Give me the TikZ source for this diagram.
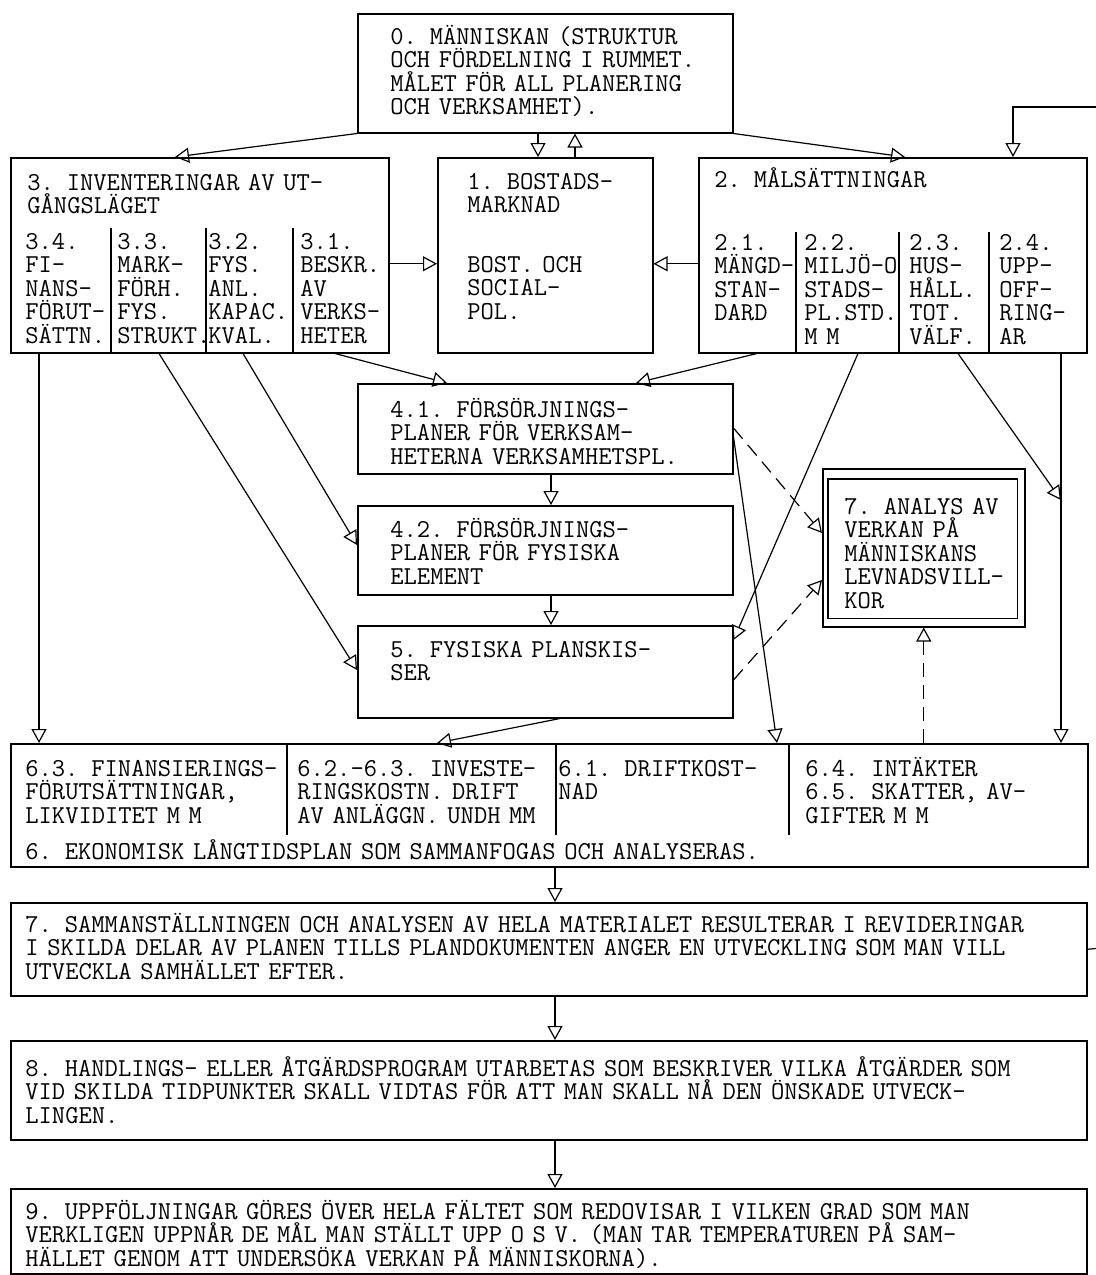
\documentclass[tikz,border=0pt]{standalone}
\usepackage{tikz}
\usetikzlibrary{arrows.meta}

\tikzset{
  box/.style={draw, line width=0.75pt, anchor=north west, inner sep=0pt},
  txt/.style={anchor=base west, inner sep=0pt, text width=560pt, align=left,
    font=\ttfamily\fontsize{12.9pt}{11.75pt}\selectfont},
  arr/.style={line width=0.6pt, -{Triangle[open, length=7pt, width=7.5pt]}},
  dasharr/.style={arr, dash pattern=on 7pt off 4pt},
  divider/.style={line width=0.6pt},
}

\begin{document}
\begin{tikzpicture}[x=0.5pt, y=-0.5pt]
\useasboundingbox (0,0) rectangle (1096,1275);
% top: the human being
\node[box, minimum width=187.5pt, minimum height=59.5pt] (b0) at (357,13) {};
\node[txt] (t0) at (390,44) {0. MÄNNISKAN (STRUKTUR\\OCH FÖRDELNING I RUMMET.\\MÅLET FÖR ALL PLANERING\\OCH VERKSAMHET).};
% row 3 - 1 - 2
\node[box, minimum width=189pt, minimum height=97.5pt] (b3) at (10,157) {};
\node[txt] (t3) at (27,190) {3. INVENTERINGAR AV UT-\\GÅNGSLÄGET};
\node[txt] (t34) at (25,249) {3.4.\\FI-\\NANS-\\FÖRUT-\\SÄTTN.};
\node[txt] (t33) at (117,249) {3.3.\\MARK-\\FÖRH.\\FYS.\\STRUKT.};
\node[txt] (t32) at (208,249) {3.2.\\FYS.\\ANL.\\KAPAC.\\KVAL.};
\node[txt] (t31) at (300,249) {3.1.\\BESKR.\\AV\\VERKS-\\HETER};
\foreach \x in {111,206,293} \draw[divider] (\x,228) -- (\x,352);

\node[box, minimum width=107.5pt, minimum height=97.5pt] (b1) at (437,157) {};
\node[txt] (t1) at (467,189) {1. BOSTADS-\\MARKNAD\\[18pt]BOST. OCH\\SOCIAL-\\POL.};

\node[box, minimum width=194pt, minimum height=97.5pt] (b2) at (698,157) {};
\node[txt] (t2) at (714,187) {2. MÅLSÄTTNINGAR};
\node[txt] (t21) at (714,250) {2.1.\\MÄNGD-\\STAN-\\DARD};
\node[txt] (t22) at (804,250) {2.2.\\MILJÖ-O\\STADS-\\PL.STD.\\M M};
\node[txt] (t23) at (909,250) {2.3.\\HUS-\\HÅLL.\\TOT.\\VÄLF.};
\node[txt] (t24) at (999,250) {2.4.\\UPP-\\OFF-\\RING-\\AR};
\foreach \x in {796,899,989} \draw[divider] (\x,232) -- (\x,352);

% middle column
\node[box, minimum width=187.5pt, minimum height=45pt] (b41) at (357,383) {};
\node[txt] (t41) at (390,417) {4.1. FÖRSÖRJNINGS-\\PLANER FÖR VERKSAM-\\HETERNA VERKSAMHETSPL.};
\node[box, minimum width=187.5pt, minimum height=44.5pt] (b42) at (357,505) {};
\node[txt] (t42) at (390,537) {4.2. FÖRSÖRJNINGS-\\PLANER FÖR FYSISKA\\ELEMENT};
\node[box, minimum width=187.5pt, minimum height=46pt] (b5) at (357,625) {};
\node[txt] (t5) at (390,657) {5. FYSISKA PLANSKIS-\\SER};

% analysis box (double frame)
\node[box, minimum width=101pt, minimum height=79pt] (b7) at (822,468) {};
\draw[line width=0.75pt] ([shift={(6,11)}]b7.north west) rectangle ([shift={(-8,-9)}]b7.south east);
\node[txt] (t7) at (844,514) {7. ANALYS AV\\VERKAN PÅ\\MÄNNISKANS\\LEVNADSVILL-\\KOR};

% economic plan
\node[box, minimum width=538.5pt, minimum height=61.5pt] (b6) at (10,743) {};
\node[txt] (t63) at (25,776) {6.3. FINANSIERINGS-\\FÖRUTSÄTTNINGAR,\\LIKVIDITET M M};
\node[txt] (t62) at (297,776) {6.2.-6.3. INVESTE-\\RINGSKOSTN. DRIFT\\AV ANLÄGGN. UNDH MM};
\node[txt] (t61) at (558,776) {6.1. DRIFTKOST-\\NAD};
\node[txt] (t64) at (805,776) {6.4. INTÄKTER\\6.5. SKATTER, AV-\\GIFTER M M};
\node[txt] (t6) at (25,859) {6. EKONOMISK LÅNGTIDSPLAN SOM SAMMANFOGAS OCH ANALYSERAS.};
\foreach \x in {287,556,789} \draw[divider] (\x,743) -- (\x,835);

% bottom chain
\node[box, minimum width=538pt, minimum height=46.5pt] (b7s) at (10,902) {};
\node[txt] (t7s) at (25,932) {7. SAMMANSTÄLLNINGEN OCH ANALYSEN AV HELA MATERIALET RESULTERAR I REVIDERINGAR\\I SKILDA DELAR AV PLANEN TILLS PLANDOKUMENTEN ANGER EN UTVECKLING SOM MAN VILL\\UTVECKLA SAMHÄLLET EFTER.};
\node[box, minimum width=538pt, minimum height=49.5pt] (b8) at (10,1040) {};
\node[txt] (t8) at (25,1076) {8. HANDLINGS- ELLER ÅTGÄRDSPROGRAM UTARBETAS SOM BESKRIVER VILKA ÅTGÄRDER SOM\\VID SKILDA TIDPUNKTER SKALL VIDTAS FÖR ATT MAN SKALL NÅ DEN ÖNSKADE UTVECK-\\LINGEN.};
\node[box, minimum width=538pt, minimum height=42.5pt] (b9) at (10,1188) {};
\node[txt] (t9) at (25,1219) {9. UPPFÖLJNINGAR GÖRES ÖVER HELA FÄLTET SOM REDOVISAR I VILKEN GRAD SOM MAN\\VERKLIGEN UPPNÅR DE MÅL MAN STÄLLT UPP O S V. (MAN TAR TEMPERATUREN PÅ SAM-\\HÄLLET GENOM ATT UNDERSÖKA VERKAN PÅ MÄNNISKORNA).};

% free ends
\coordinate (lin) at (1096,107);
\coordinate (lout) at (1096,948.5);
\coordinate (tap) at (1061,500);

% connectors from the top
\draw[arr] (b0.south west) -- ([shift={(165,0)}]b3.north west);
\draw[arr] (b0.south east) -- ([shift={(207,0)}]b2.north west);
\draw[arr] ([shift={(181,0)}]b0.south west) -- ([shift={(101,0)}]b1.north west);
\draw[arr] ([shift={(138,0)}]b1.north west) -- ([shift={(218,0)}]b0.south west);
\draw[arr] ([shift={(0,8.5)}]b3.east) -- ([shift={(0,8.5)}]b1.west);
\draw[arr] ([shift={(0,8.5)}]b2.west) -- ([shift={(0,8.5)}]b1.east);
\draw[arr] (lin) -| ([shift={(315,0)}]b2.north west);
% connectors to the middle
\draw[arr] ([shift={(325,0)}]b3.south west) -- ([shift={(90,0)}]b41.north west);
\draw[arr] ([shift={(59,0)}]b2.south west) -- ([shift={(279,0)}]b41.north west);
\draw[arr] ([shift={(29,0)}]b3.south west) -- ([shift={(29,0)}]b6.north west);
\draw[arr] ([shift={(149,0)}]b3.south west) -- ([shift={(0,45)}]b5.north west);
\draw[arr] ([shift={(233,0)}]b3.south west) -- ([shift={(0,40)}]b42.north west);
\draw[arr] ([shift={(194,0)}]b41.south west) -- ([shift={(194,0)}]b42.north west);
\draw[arr] ([shift={(194,0)}]b42.south west) -- ([shift={(194,0)}]b5.north west);
\draw[arr] ([shift={(203,0)}]b5.south west) -- ([shift={(427,0)}]b6.north west);
\draw[arr] ([shift={(0,54)}]b41.north east) -- ([shift={(767,0)}]b6.north west);
\draw[arr] ([shift={(160,0)}]b2.south west) -- ([shift={(0,15)}]b5.north east);
\draw[arr] ([shift={(260,0)}]b2.south west) -- (tap);
\draw[arr] ([shift={(363,0)}]b2.south west) -- ([shift={(1051,0)}]b6.north west);
% dashed links to the analysis
\draw[dasharr] ([shift={(0,45)}]b41.north east) -- ([shift={(0,65)}]b7.north west);
\draw[dasharr] ([shift={(0,55)}]b5.north east) -- ([shift={(0,112)}]b7.north west);
\draw[dasharr] (b7.south |- b6.north) -- (b7.south);
% bottom chain
\draw[arr] ([shift={(545,0)}]b6.south west) -- ([shift={(545,0)}]b7s.north west);
\draw[arr] ([shift={(545,0)}]b7s.south west) -- ([shift={(545,0)}]b8.north west);
\draw[arr] ([shift={(545,0)}]b8.south west) -- ([shift={(545,0)}]b9.north west);
\draw[line width=0.6pt] (b7s.east) -- (lout);
\end{tikzpicture}
\end{document}
